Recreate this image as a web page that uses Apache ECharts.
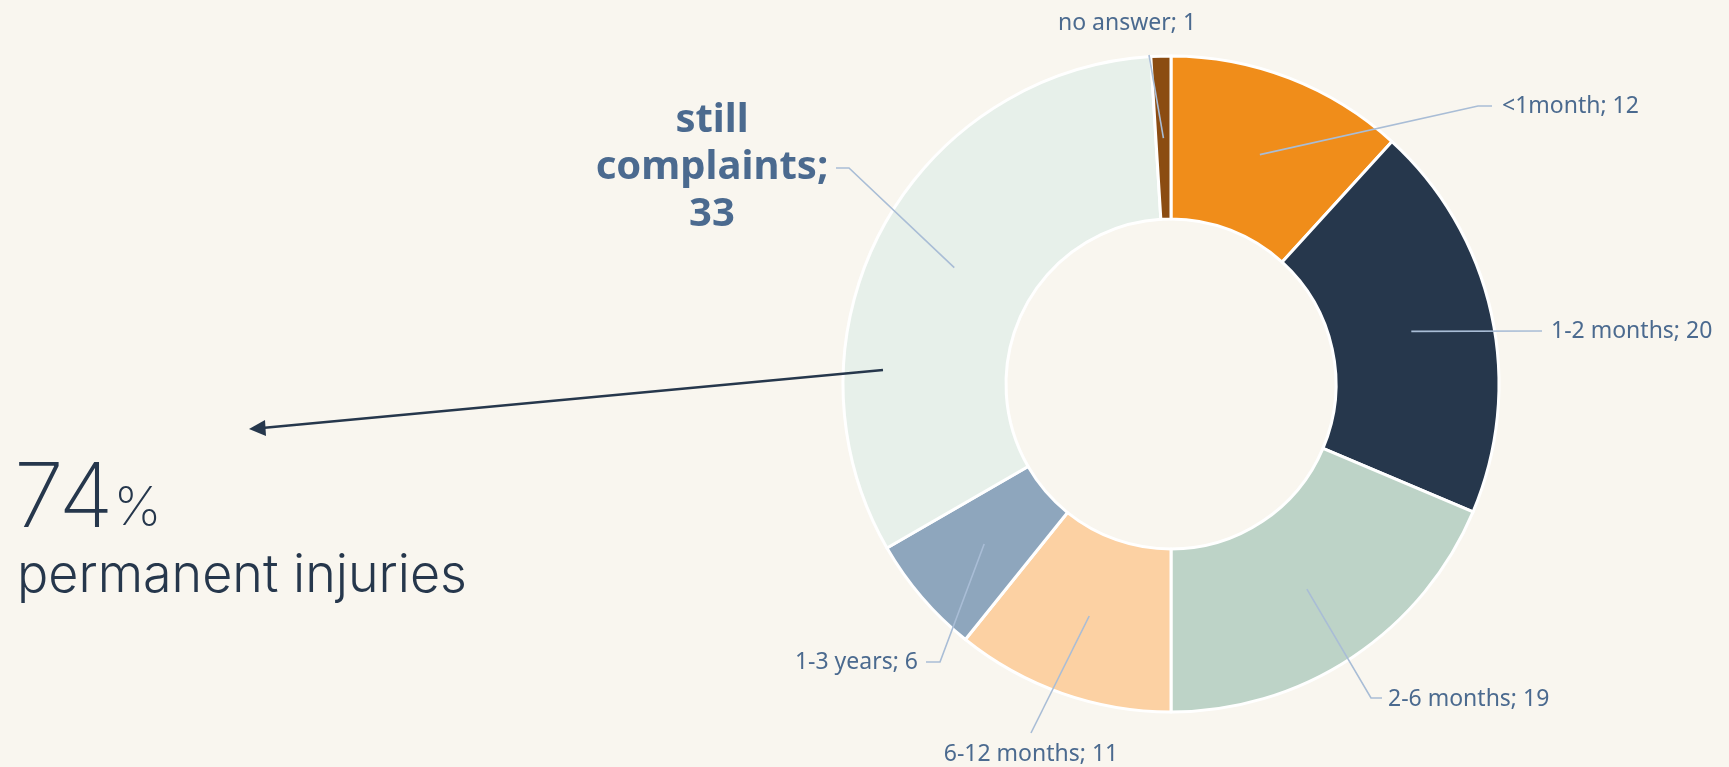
<!DOCTYPE html>
<html lang='en'>
<head>
  <meta charset='utf-8'>
  <title>complaints duration</title>
  <style>
    html, body { margin: 0; padding: 0; background: #f9f6ef; }
    #main { width: 1729px; height: 767px; }
  </style>
</head>
<body>
<div id="main"></div>
<script src="https://cdn.jsdelivr.net/npm/echarts@6/dist/echarts.min.js"></script>
<script>
  // data, clockwise from 12 o'clock
  var categories = ['<1month', '1-2 months', '2-6 months', '6-12 months', '1-3 years', 'still complaints', 'no answer'];
  var counts = [12, 20, 19, 11, 6, 33, 1];
  var sliceColors = ['#f08d1a', '#26374c', '#bdd3c7', '#fcd1a3', '#8ea6bd', '#e7f0ea', '#8b4c12'];
  var headline = '74';
  var headlineCaption = 'permanent injuries';

  var center = [1171, 384];
  var midRadius = 246;   // callout lines start in the middle of the ring

  // where each callout bends / ends and where its text sits
  var callouts = [
    { knee: [1478, 106], end: [1492, 106], at: [1502, 106], align: 'left' },
    { knee: [1542, 331], end: [1542, 331], at: [1551, 331], align: 'left' },
    { knee: [1371, 698], end: [1382, 698], at: [1388, 699], align: 'left' },
    { knee: [1031, 733], end: [1031, 733], at: [1031, 754], align: 'center' },
    { knee: [940, 662],  end: [926, 662],  at: [918, 662],  align: 'right' },
    { knee: [849, 168],  end: [836, 168],  at: [712, 168],  align: 'center' },
    { knee: [1149, 55],  end: [1149, 55],  at: [1127, 23],  align: 'center' }
  ];

  var total = counts.reduce(function(a, b) { return a + b; }, 0);
  function midAngle(i) {
    var before = 0;
    for (var k = 0; k < i; k++) before += counts[k];
    return (before + counts[i] / 2) / total * Math.PI * 2;
  }

  var pieData = categories.map(function(name, i) {
    return { name: name, value: counts[i], itemStyle: { color: sliceColors[i] } };
  });

  // same slices again, invisible, only to carry the callouts above the ring
  var labelData = categories.map(function(name, i) {
    var item = { name: name, value: counts[i] };
    if (name === 'still complaints') {
      item.label = {
        formatter: 'still\ncomplaints;\n{c}',
        fontSize: 40, fontWeight: 'bold', lineHeight: 47
      };
    }
    return item;
  });

  var myChart = echarts.init(document.getElementById('main'));
  var option = {
    backgroundColor: '#f9f6ef',
    animation: false,
    series: [{
      type: 'pie',
      center: center,
      radius: [165, 328],
      startAngle: 90,
      clockwise: true,
      silent: true,
      itemStyle: { borderColor: '#ffffff', borderWidth: 3 },
      label: { show: false },
      labelLine: { show: false },
      data: pieData
    }, {
      type: 'pie',
      z: 5,
      center: center,
      radius: [165, 328],
      startAngle: 90,
      clockwise: true,
      silent: true,
      avoidLabelOverlap: false,
      itemStyle: { color: 'rgba(0,0,0,0)', borderWidth: 0 },
      label: {
        show: true,
        position: 'outside',
        formatter: '{b}; {c}',
        color: '#4b6a8f',
        fontFamily: 'Noto Sans',
        fontSize: 23
      },
      labelLine: {
        show: true,
        smooth: false,
        lineStyle: { color: '#a9bdd6', width: 1.6 }
      },
      labelLayout: function(params) {
        var i = params.dataIndex;
        var c = callouts[i];
        var a = midAngle(i);
        var p0 = [center[0] + midRadius * Math.sin(a), center[1] - midRadius * Math.cos(a)];
        return {
          x: c.at[0],
          y: c.at[1],
          align: c.align,
          verticalAlign: 'middle',
          labelLinePoints: [p0, c.knee, c.end]
        };
      },
      data: labelData
    }],
    graphic: [
      {
        type: 'line',
        z: 100,
        shape: { x1: 883, y1: 370, x2: 262, y2: 428 },
        style: { stroke: '#26374c', lineWidth: 2.5 }
      },
      {
        type: 'polygon',
        z: 100,
        shape: { points: [[249, 429], [265, 420], [266, 436]] },
        style: { fill: '#26374c' }
      },
      {
        type: 'text',
        z: 100,
        left: 14,
        top: 455,
        style: {
          text: '{big|' + headline + '}{pct|%}',
          rich: {
            big: { fontFamily: 'Inter', fontWeight: 200, fontSize: 90, fill: '#26374c', verticalAlign: 'bottom' },
            pct: { fontFamily: 'Inter', fontWeight: 200, fontSize: 54, fill: '#26374c', verticalAlign: 'bottom', padding: [0, 0, 9, 0] }
          }
        }
      },
      {
        type: 'text',
        z: 100,
        left: 17,
        top: 550,
        style: {
          text: headlineCaption,
          fontFamily: 'Inter',
          fontWeight: 300,
          fontSize: 52,
          fill: '#26374c'
        }
      }
    ]
  };
  myChart.setOption(option);
</script>
</body>
</html>
